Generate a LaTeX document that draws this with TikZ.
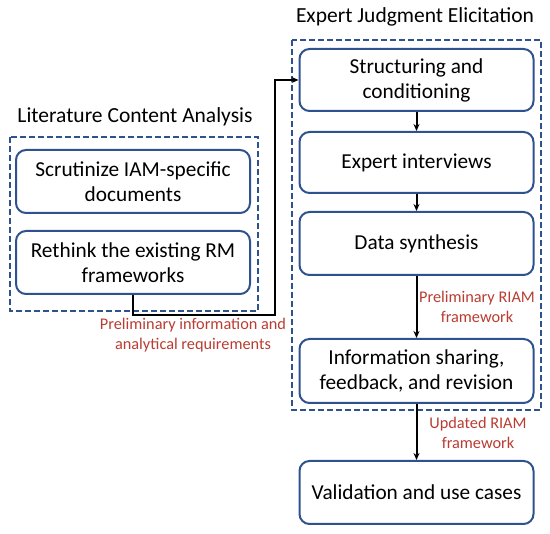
\documentclass[tikz,border=0pt]{standalone}
\usepackage{fontspec}
\setmainfont{Carlito}
\usetikzlibrary{arrows.meta}
\definecolor{boxblue}{RGB}{47,82,143}
\definecolor{labred}{RGB}{185,60,50}
\tikzset{
  stepbox/.style={draw=boxblue, line width=2pt, rounded corners=10pt, fill=white,
    minimum width=234pt, align=center, font=\fontsize{21.3}{25}\selectfont, inner sep=2pt},
  groupbox/.style={draw=boxblue, line width=1.8pt, dash pattern=on 6pt off 3pt},
  conn/.style={draw=black, line width=2pt, -{Stealth[length=7pt,width=6pt]}},
  lab/.style={text=labred, align=center, font=\fontsize{16.3}{20}\selectfont},
  grouptitle/.style={font=\fontsize{21.5}{25}\selectfont}
}
\begin{document}
\begin{tikzpicture}[x=1pt,y=-1pt]
\useasboundingbox (0,0) rectangle (550,534);
% group frames
\draw[groupbox] (10,137) rectangle (258,311);
\draw[groupbox] (292,40) rectangle (541,410);
\node[grouptitle] (ltitle) at (135,117) {Literature Content Analysis};
\node[grouptitle] (rtitle) at (415,17) {Expert Judgment Elicitation};
% left boxes
\node[stepbox, minimum height=63pt] (b1) at (133,181.5) {Scrutinize IAM-specific\\documents};
\node[stepbox, minimum height=63pt] (b2) at (133,262.5) {Rethink the existing RM\\frameworks};
% right boxes
\node[stepbox, minimum height=62pt] (ba) at (416.5,80) {Structuring and\\conditioning};
\node[stepbox, minimum height=61pt] (bb) at (416.5,162.5) {Expert interviews};
\node[stepbox, minimum height=63pt] (bc) at (416.5,243.5) {Data synthesis};
\node[stepbox, minimum height=64pt] (bd) at (416.5,371) {Information sharing,\\feedback, and revision};
\node[stepbox, minimum height=63pt] (be) at (416.5,492.5) {Validation and use cases};
% connectors
\coordinate (c1) at (133,315);
\coordinate (c2) at (275,315);
\coordinate (c3) at (275,80);
\draw[conn] (b2.south) -- (c1) -- (c2) -- (c3) -- (ba.west);
\draw[conn] (ba.south) -- (bb.north);
\draw[conn] (bb.south) -- (bc.north);
\draw[conn] (bc.south) -- (bd.north);
\draw[conn] (bd.south) -- (be.north);
% labels
\node[lab] (l1) at (193,335) {Preliminary information and\\analytical requirements};
\node[lab] (l2) at (477,307) {Preliminary RIAM\\framework};
\node[lab] (l3) at (478,433) {Updated RIAM\\framework};
\end{tikzpicture}
\end{document}
